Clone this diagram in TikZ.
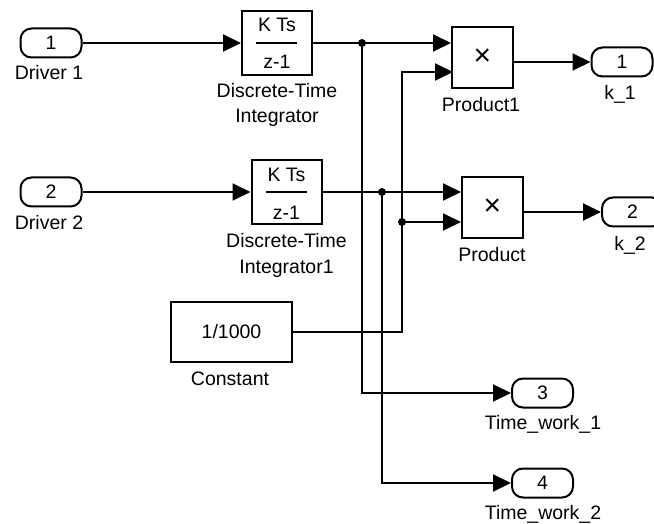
\documentclass[tikz,border=0pt]{standalone}
\usepackage{fontspec}
\setmainfont{Liberation Sans}
\usetikzlibrary{arrows.meta, positioning}

\tikzset{
  port/.style={draw, line width=1pt, rounded corners=5.5pt, minimum width=30.5pt, minimum height=14.5pt, inner sep=0pt},
  block/.style={draw, line width=1pt, inner sep=0pt},
  sig/.style={line width=1pt, -{Triangle[length=9pt,width=8.5pt]}},
  wire/.style={line width=1pt},
  tap/.style={circle, fill, inner sep=0pt, minimum size=4pt},
  lbl/.style={inner sep=0pt, anchor=base}
}

\begin{document}
\begin{tikzpicture}[x=0.5pt, y=-0.5pt, font=\fontsize{9.75}{11}\selectfont]
\clip (0,0) rectangle (654,524);

% inports
\node[port] (in1) at (51,43) {1};
\node[lbl] (in1lbl) at (49,79.5) {Driver 1};
\node[port] (in2) at (51,192) {2};
\node[lbl] (in2lbl) at (49,229.5) {Driver 2};

% integrators
\node[block, minimum width=35pt, minimum height=32pt] (int1) at (277,43) {};
\node[inner sep=0pt] (int1num) at (277,25) {K Ts};
\draw[wire] (256,43) -- (297,43);
\node[inner sep=0pt] (int1den) at (277,62) {z-1};
\node[lbl] (int1lbla) at (277,98) {Discrete-Time};
\node[lbl] (int1lblb) at (277,123) {Integrator};

\node[block, minimum width=35pt, minimum height=32pt] (int2) at (286.5,192) {};
\node[inner sep=0pt] (int2num) at (286.5,175) {K Ts};
\draw[wire] (266,192) -- (307,192);
\node[inner sep=0pt] (int2den) at (286.5,213) {z-1};
\node[lbl] (int2lbla) at (286.5,248) {Discrete-Time};
\node[lbl] (int2lblb) at (286.5,273) {Integrator1};

% constant
\node[block, minimum width=60.5pt, minimum height=30pt] (const) at (231.5,332) {1/1000};
\node[lbl] (constlbl) at (230,385.5) {Constant};

% products
\node[block, minimum size=30.5pt, font=\fontsize{15}{15}\selectfont] (prod1) at (482.5,57.5) {×};
\node[lbl] (prod1lbl) at (481,111.5) {Product1};
\node[block, minimum size=30.5pt, font=\fontsize{15}{15}\selectfont] (prod) at (492.5,207.5) {×};
\node[lbl] (prodlbl) at (492,261.5) {Product};

% outports
\node[port] (k1) at (622,62) {1};
\node[lbl] (k1lbl) at (620,100) {k\_1};
\node[port] (k2) at (632.5,212) {2};
\node[lbl] (k2lbl) at (630,250) {k\_2};
\node[port] (tw1) at (542.5,393) {3};
\node[lbl] (tw1lbl) at (543,429.5) {Time\_work\_1};
\node[port] (tw2) at (542.5,483) {4};
\node[lbl] (tw2lbl) at (543,519.5) {Time\_work\_2};

% branch points
\coordinate (b1) at (362,43);
\coordinate (b2) at (382,192);
\coordinate (b3) at (402,222);
\coordinate (p1in2) at (453,72);
\node[tap] (t1) at (b1) {};
\node[tap] (t2) at (b2) {};
\node[tap] (t3) at (b3) {};

% signals
\draw[sig] (in1) -- (int1);
\draw[sig] (in2) -- (int2);
\draw[sig] (int1.east) -- (int1.east -| prod1.west);
\draw[sig] (int2.east) -- (int2.east -| prod.west);
\draw[sig] (b1) |- (tw1.west);
\draw[sig] (b2) |- (tw2.west);
\draw[wire] (const.east) -| (b3);
\draw[sig] (b3) -- (b3 -| prod.west);
\draw[sig] (b3) |- (p1in2);
\draw[sig] (prod1.east |- k1) -- (k1.west);
\draw[sig] (prod.east |- k2) -- (k2.west);
\end{tikzpicture}
\end{document}
